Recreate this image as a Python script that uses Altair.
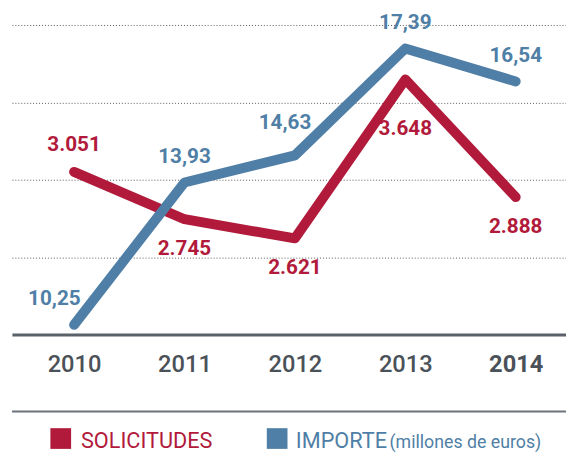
import altair as alt
import pandas as pd

years = [2010, 2011, 2012, 2013, 2014]
solicitudes = [3051, 2745, 2621, 3648, 2888]
importe = [10.25, 13.93, 14.63, 17.39, 16.54]
legend_labels = ["SOLICITUDES", "IMPORTE"]
legend_sub = "(millones de euros)"

RED = "#b11a3a"
BLUE = "#4f7fa6"
GRAY = "#4b5158"
FONT = "Roboto"

df = pd.DataFrame({
    "year": years,
    "sol": solicitudes,
    "imp": importe,
    "sol_lbl": [f"{v:,}".replace(",", ".") for v in solicitudes],
    "imp_lbl": [f"{v:.2f}".replace(".", ",") for v in importe],
})

x = alt.X(
    "year:Q",
    scale=alt.Scale(domain=[2009.4375, 2009.4375 + 562 / 112], nice=False, zero=False),
    axis=alt.Axis(
        values=years, format="d", title=None, ticks=False, grid=False,
        labelFont=FONT, labelFontSize=24, labelColor=GRAY, labelPadding=19,
        labelFontWeight=alt.condition("datum.value == 2014", alt.value("bold"), alt.value(500)),
        domainColor="#5a6169", domainWidth=3,
    ),
)

y_red = alt.Y("sol:Q", scale=alt.Scale(domain=[2000, 4000], nice=False, zero=False), axis=None)
y_blue = alt.Y(
    "imp:Q",
    scale=alt.Scale(domain=[10, 18], nice=False, zero=False),
    axis=alt.Axis(values=[12, 14, 16, 18], grid=True, gridDash=[1, 2], gridColor="#5a5a5a",
                  gridWidth=1, labels=False, ticks=False, domain=False, title=None),
)

base = alt.Chart(df)

red_line = base.mark_line(color=RED, strokeWidth=10, strokeCap="round", strokeJoin="round").encode(x=x, y=y_red)

red_txt = dict(color=RED, font=FONT, fontSize=21, fontWeight="bold", baseline="middle", align="center")
red_lbl_a = base.mark_text(dy=-27, **red_txt).encode(x=x, y=y_red, text="sol_lbl:N").transform_filter("datum.year == 2010")
red_lbl_b = base.mark_text(dy=30, **red_txt).encode(x=x, y=y_red, text="sol_lbl:N").transform_filter("datum.year != 2010 && datum.year != 2013")
red_lbl_c = base.mark_text(dy=50, **red_txt).encode(x=x, y=y_red, text="sol_lbl:N").transform_filter("datum.year == 2013")

blue_line = base.mark_line(color=BLUE, strokeWidth=10, strokeCap="round", strokeJoin="round").encode(x=x, y=y_blue)
blue_txt = dict(color=BLUE, font=FONT, fontSize=21, fontWeight="bold", baseline="middle", align="center")
blue_lbl_a = base.mark_text(dx=-20, dy=-26, **blue_txt).encode(x=x, y=y_blue, text="imp_lbl:N").transform_filter("datum.year == 2010")
blue_lbl_b = base.mark_text(dy=-26, **blue_txt).encode(x=x, y=y_blue, text="imp_lbl:N").transform_filter("datum.year != 2010 && datum.year != 2012")
blue_lbl_c = base.mark_text(dx=-10, dy=-33, **blue_txt).encode(x=x, y=y_blue, text="imp_lbl:N").transform_filter("datum.year == 2012")

red_layer = alt.layer(red_line, red_lbl_a, red_lbl_b, red_lbl_c)
blue_layer = alt.layer(blue_line, blue_lbl_a, blue_lbl_b, blue_lbl_c)

# bottom separator and manual legend (fixed pixel placement, outside the data scales)
one = pd.DataFrame({"k": [0]})
sep = alt.Chart(one).mark_rule(color="#6d737a", strokeWidth=2).encode(
    x=alt.value(0), x2=alt.value(562), y=alt.value(392))

leg_red_sq = alt.Chart(one).mark_square(size=441, opacity=1, color=RED).encode(
    x=alt.value(49.5), y=alt.value(419.5))
leg_blue_sq = alt.Chart(one).mark_square(size=441, opacity=1, color=BLUE).encode(
    x=alt.value(269), y=alt.value(419.5))
leg_red_tx = alt.Chart(one).mark_text(font=FONT, fontSize=22, align="left", baseline="alphabetic",
                                      color=RED, text=legend_labels[0]).encode(
    x=alt.value(70), y=alt.value(429))
leg_blue_tx = alt.Chart(one).mark_text(font=FONT, fontSize=22, align="left", baseline="alphabetic",
                                       color=BLUE, text=legend_labels[1]).encode(
    x=alt.value(288), y=alt.value(429))
leg_sub = alt.Chart(one).mark_text(font=FONT, fontSize=18, align="left", baseline="alphabetic",
                                   color=BLUE, text=legend_sub).encode(
    x=alt.value(383), y=alt.value(429))

legend = alt.layer(sep, leg_red_sq, leg_blue_sq, leg_red_tx, leg_blue_tx, leg_sub)

chart = alt.layer(red_layer, blue_layer, legend).resolve_scale(y="independent").properties(
    width=562, height=314,
    autosize=alt.AutoSizeParams(type="none"),
    padding={"left": 4, "top": 14, "right": 0, "bottom": 120},
).configure_view(stroke=None)

chart.save("out.html", embed_options={"renderer": "svg", "actions": False})
